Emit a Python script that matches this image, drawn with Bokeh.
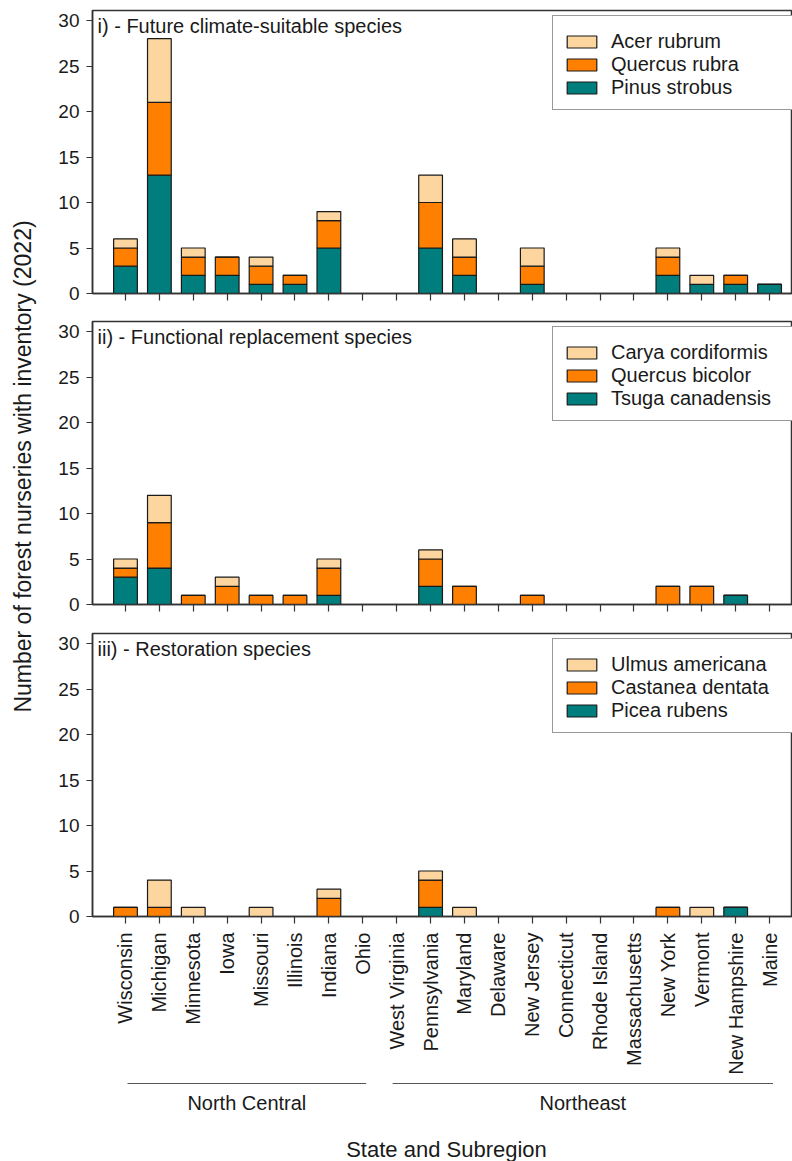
import math
from bokeh.plotting import figure
from bokeh.models import (Range1d, FixedTicker, Legend, LegendItem, Label,
                          ColumnDataSource)
from bokeh.layouts import column, row
from bokeh.embed import file_html
from bokeh.resources import INLINE
from bokeh.core.properties import value

# ---------------- data ----------------
states = ["Wisconsin", "Michigan", "Minnesota", "Iowa", "Missouri", "Illinois",
          "Indiana", "Ohio", "West Virginia", "Pennsylvania", "Maryland",
          "Delaware", "New Jersey", "Connecticut", "Rhode Island",
          "Massachusetts", "New York", "Vermont", "New Hampshire", "Maine"]
regions = ["North Central", "Northeast"]
region_sizes = [8, 12]

panel1_title = "i) - Future climate-suitable species"
panel1_species = ["Acer rubrum", "Quercus rubra", "Pinus strobus"]
acer_rubrum =   [1, 7, 1, 0, 1, 0, 1, 0, 0, 3, 2, 0, 2, 0, 0, 0, 1, 1, 0, 0]
quercus_rubra = [2, 8, 2, 2, 2, 1, 3, 0, 0, 5, 2, 0, 2, 0, 0, 0, 2, 0, 1, 0]
pinus_strobus = [3, 13, 2, 2, 1, 1, 5, 0, 0, 5, 2, 0, 1, 0, 0, 0, 2, 1, 1, 1]

panel2_title = "ii) - Functional replacement species"
panel2_species = ["Carya cordiformis", "Quercus bicolor", "Tsuga canadensis"]
carya_cordiformis = [1, 3, 0, 1, 0, 0, 1, 0, 0, 1, 0, 0, 0, 0, 0, 0, 0, 0, 0, 0]
quercus_bicolor =   [1, 5, 1, 2, 1, 1, 3, 0, 0, 3, 2, 0, 1, 0, 0, 0, 2, 2, 0, 0]
tsuga_canadensis =  [3, 4, 0, 0, 0, 0, 1, 0, 0, 2, 0, 0, 0, 0, 0, 0, 0, 0, 1, 0]

panel3_title = "iii) - Restoration species"
panel3_species = ["Ulmus americana", "Castanea dentata", "Picea rubens"]
ulmus_americana =  [0, 3, 1, 0, 1, 0, 1, 0, 0, 1, 1, 0, 0, 0, 0, 0, 0, 1, 0, 0]
castanea_dentata = [1, 1, 0, 0, 0, 0, 2, 0, 0, 3, 0, 0, 0, 0, 0, 0, 1, 0, 0, 0]
picea_rubens =     [0, 0, 0, 0, 0, 0, 0, 0, 0, 1, 0, 0, 0, 0, 0, 0, 0, 0, 1, 0]

y_ticks = [0, 5, 10, 15, 20, 25, 30]
y_label = "Number of forest nurseries with inventory (2022)"
x_label = "State and Subregion"

# ---------------- style ----------------
FONT = "Liberation Sans"
LIGHT = "#FCD59F"
ORANGE = "#FF8000"
TEAL = "#007D7D"
EDGE = "#1a1a1a"
AXC = "#333333"
TXT = "#1a1a1a"

YLAB_W = 40
FRAME_W = 700
FRAME_H = 283
LEFT = 92 - YLAB_W
xs = list(range(1, len(states) + 1))
x_range = Range1d(0.027, 0.027 + FRAME_W / 33.9)


def make_panel(title, names, light, orange, teal, top, bottom, labels):
    p = figure(x_range=x_range, y_range=Range1d(0, 31.1),
               frame_width=FRAME_W, frame_height=FRAME_H,
               min_border_left=LEFT, min_border_right=0,
               min_border_top=top, min_border_bottom=bottom,
               output_backend="svg", toolbar_location=None, title=None)
    src = ColumnDataSource(dict(x=xs, a=teal, b=orange, c=light))
    rs = p.vbar_stack(["a", "b", "c"], x="x", width=0.7, source=src,
                      fill_color=[TEAL, ORANGE, LIGHT],
                      line_color=EDGE, line_width=1.2)
    p.grid.visible = False
    p.outline_line_color = AXC
    p.outline_line_width = 1.5
    p.background_fill_color = "white"
    p.border_fill_color = "white"

    yax = p.yaxis[0]
    yax.ticker = FixedTicker(ticks=y_ticks, minor_ticks=[])
    yax.axis_line_color = AXC
    yax.axis_line_width = 1.5
    yax.major_tick_line_color = AXC
    yax.major_tick_line_width = 1.2
    yax.major_tick_out = 6
    yax.major_tick_in = 0
    yax.major_label_standoff = 7
    yax.major_label_text_font = FONT
    yax.major_label_text_font_size = "19px"
    yax.major_label_text_color = TXT

    xax = p.xaxis[0]
    xax.ticker = FixedTicker(ticks=xs, minor_ticks=[])
    xax.axis_line_color = AXC
    xax.axis_line_width = 1.5
    xax.major_tick_line_color = AXC
    xax.major_tick_line_width = 1.2
    xax.major_tick_out = 7
    xax.major_tick_in = 0
    if labels:
        xax.major_label_overrides = {x: s for x, s in zip(xs, states)}
        xax.major_label_orientation = math.pi / 2
        xax.major_label_standoff = 9
        xax.major_label_text_font = FONT
        xax.major_label_text_font_size = "20px"
        xax.major_label_text_color = TXT
    else:
        xax.major_label_overrides = {x: "" for x in xs}
        xax.major_label_text_font_size = "1px"
        xax.major_label_standoff = 0

    p.add_layout(Label(x=5, y=FRAME_H - 15, x_units="screen", y_units="screen",
                       text=title, text_font=FONT, text_font_size="20px",
                       text_color=TXT, text_baseline="alphabetic"))

    items = [LegendItem(label=names[0], renderers=[rs[2]]),
             LegendItem(label=names[1], renderers=[rs[1]]),
             LegendItem(label=names[2], renderers=[rs[0]])]
    leg = Legend(items=items, location=(460, 183), margin=0,
                 padding=10, spacing=0, glyph_width=37, glyph_height=15,
                 label_standoff=11, label_width=240,
                 label_text_font=FONT, label_text_font_size="20px",
                 label_text_color=TXT,
                 title=" ", title_text_font_size="3px", title_standoff=0,
                 border_line_color=AXC, border_line_width=1.5,
                 background_fill_color="white", background_fill_alpha=1)
    p.add_layout(leg)
    return p


p1 = make_panel(panel1_title, panel1_species, acer_rubrum, quercus_rubra,
                pinus_strobus, 10, 20, False)
p2 = make_panel(panel2_title, panel2_species, carya_cordiformis,
                quercus_bicolor, tsuga_canadensis, 8, 20, False)
p3 = make_panel(panel3_title, panel3_species, ulmus_americana,
                castanea_dentata, picea_rubens, 9, 160, True)

# region brackets and x-axis title
H4 = 85
p4 = figure(x_range=x_range, y_range=Range1d(0, H4),
            frame_width=FRAME_W, frame_height=H4,
            min_border_left=LEFT, min_border_right=0,
            min_border_top=0, min_border_bottom=0,
            x_axis_location=None, y_axis_location=None,
            output_backend="svg", toolbar_location=None, title=None)
p4.grid.visible = False
p4.outline_line_color = None

starts, ends, mids = [], [], []
i0 = 1
for k, n in enumerate(region_sizes):
    first, last = i0, i0 + n - 1
    x0 = first + (0.06 if k == 0 else -0.12)
    x1 = last + 0.1
    starts.append(x0)
    ends.append(x1)
    mids.append((x0 + x1) / 2)
    i0 += n
rsrc = ColumnDataSource(dict(x0=starts, x1=ends, xm=mids, name=regions,
                             yl=[H4 - 6] * len(regions),
                             yt=[H4 - 25] * len(regions)))
p4.segment(x0="x0", y0="yl", x1="x1", y1="yl", source=rsrc,
           line_color="#555555", line_width=1.2)
p4.text(x="xm", y="yt", text="name", source=rsrc, text_align="center",
        text_baseline="middle", text_font=value(FONT),
        text_font_size=value("20px"), text_color=TXT)
p4.add_layout(Label(x=FRAME_W / 2 + 4, y=13, x_units="screen", y_units="screen",
                    text=x_label, text_font=FONT, text_font_size="22px",
                    text_color=TXT, text_align="center",
                    text_baseline="middle"))

# shared y-axis title
TOTAL_H = (10 + FRAME_H + 20) + (8 + FRAME_H + 20) + (9 + FRAME_H + 160) + H4
pl = figure(x_range=Range1d(0, YLAB_W), y_range=Range1d(0, TOTAL_H),
            frame_width=YLAB_W, frame_height=TOTAL_H,
            min_border_left=0, min_border_right=0,
            min_border_top=0, min_border_bottom=0,
            x_axis_location=None, y_axis_location=None,
            output_backend="svg", toolbar_location=None, title=None)
pl.grid.visible = False
pl.outline_line_color = None
pl.add_layout(Label(x=22, y=TOTAL_H - 466, x_units="screen", y_units="screen",
                    text=y_label, text_font=FONT, text_font_size="23px",
                    text_color=TXT, text_align="center",
                    text_baseline="middle", angle=math.pi / 2))

layout = row(pl, column(p1, p2, p3, p4, spacing=0), spacing=0)
open("out.html", "w").write(file_html(layout, INLINE))
